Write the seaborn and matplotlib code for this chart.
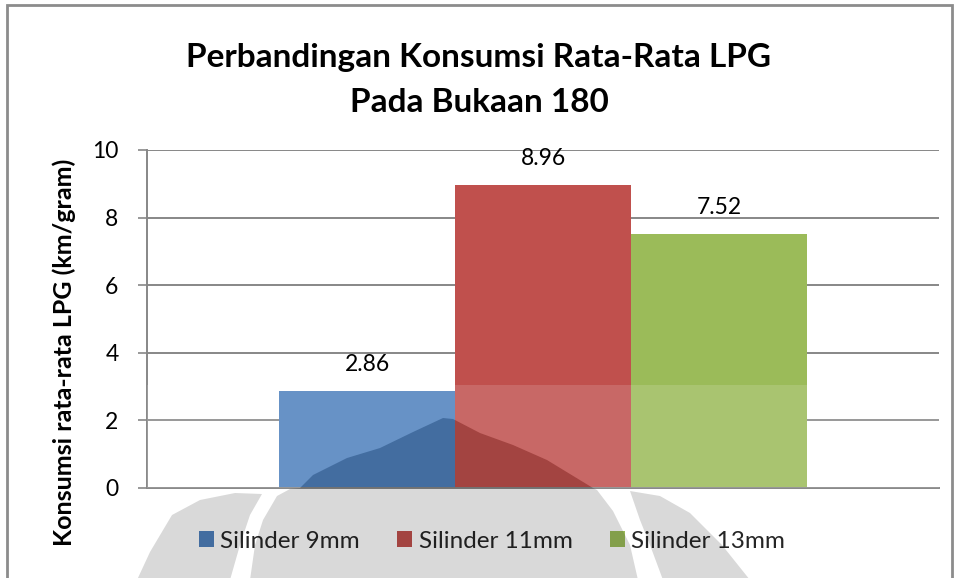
import numpy as np
import pandas as pd
import seaborn as sns
import matplotlib
matplotlib.use("Agg")
import matplotlib.pyplot as plt
from matplotlib.patches import Patch, PathPatch, Polygon, Rectangle
from matplotlib.path import Path

# ---- data -------------------------------------------------------------
judul = ["Perbandingan Konsumsi Rata-Rata LPG", "Pada Bukaan 180"]
label_y = "Konsumsi rata-rata LPG (km/gram)"
kategori = [""]
seri = ["Silinder 9mm", "Silinder 11mm", "Silinder 13mm"]
nilai = [2.86, 8.96, 7.52]
warna = ["#4F81BD", "#C0504D", "#9BBB59"]
y_ticks = [0, 2, 4, 6, 8, 10]

W, H = 958, 578
GRID = "#878787"

sns.set_theme(style="white")
plt.rcParams["font.family"] = ["Lato", "DejaVu Sans"]

fig = plt.figure(figsize=(W / 100, H / 100), dpi=100)
fig.patch.set_facecolor("white")


def fx(x, y):
    """pixel position (origin top-left) -> figure fraction"""
    return (x / W, 1 - y / H)


ax = fig.add_axes([147 / W, 1 - 488 / H, (939 - 147) / W, (488 - 150) / H])

df = pd.DataFrame({"kategori": kategori * len(seri), "seri": seri, "nilai": nilai})
sns.barplot(data=df, x="kategori", y="nilai", hue="seri", hue_order=seri,
            palette=warna, width=2 / 3, errorbar=None, saturation=1,
            linewidth=0, legend=False, ax=ax, zorder=2)

ax.set_xlim(-0.5, 0.5)
ax.set_ylim(0, 10)
ax.set_yticks(y_ticks)
ax.set_yticklabels([str(t) for t in y_ticks])
ax.set_xlabel("")
ax.set_ylabel("")
ax.yaxis.grid(True, color=GRID, lw=1.4)
ax.set_axisbelow(True)
for s in ["top", "right"]:
    ax.spines[s].set_visible(False)
for s in ["left", "bottom"]:
    ax.spines[s].set_color(GRID)
    ax.spines[s].set_linewidth(1.4)
ax.tick_params(axis="y", left=True, length=6.5, width=1.2, color=GRID,
               pad=14, labelsize=16.5, labelcolor="black")
ax.tick_params(axis="x", bottom=False, labelbottom=False)

# value labels above each bar
for cont in ax.containers:
    for p in cont:
        h = p.get_height()
        ax.annotate(f"{h:.2f}", xy=(p.get_x() + p.get_width() / 2, h),
                    xytext=(0, 14.5), textcoords="offset points",
                    ha="center", va="baseline", fontsize=16.5, color="black")

# title
fig.text(*fx(479, 67), judul[0], ha="center", va="baseline",
         fontsize=24, fontweight="bold", color="black")
fig.text(*fx(479, 112), judul[1], ha="center", va="baseline",
         fontsize=24, fontweight="bold", color="black")

# y label
fig.text(*fx(64, 352), label_y, rotation=90, ha="center", va="center",
         fontsize=18, fontweight="bold", color="black")

# legend
handles = [Patch(facecolor=c, edgecolor="none", label=s) for c, s in zip(warna, seri)]
fig.legend(handles=handles, loc="center", bbox_to_anchor=fx(492, 541),
           ncol=3, frameon=False, fontsize=17.5, handlelength=0.62,
           handleheight=0.62, handletextpad=0.25, columnspacing=1.56)

# ---- background watermark -------------------------------------------
def to_fig(pts):
    return [fx(x, y) for x, y in pts]


def compound(outer, holes=()):
    verts, codes = [], []
    for ring, rev in [(outer, False)] + [(h, True) for h in holes]:
        pts = to_fig(ring[::-1] if rev else ring)
        verts += pts + [pts[0]]
        codes += [Path.MOVETO] + [Path.LINETO] * (len(pts) - 1) + [Path.CLOSEPOLY]
    return Path(verts, codes)


hump = [(300, 488), (313, 475), (347, 458), (380, 448), (413, 432), (443, 418),
        (453, 419), (480, 433), (513, 445), (547, 460), (593, 488)]

blade_a = [(137, 580), (150, 552), (172, 515), (200, 500), (235, 493), (262, 494),
           (250, 515), (240, 545), (230, 580)]
blade_mid = ([(250, 580), (255, 545), (263, 520), (277, 496), (290, 489)] + hump +
             [(597, 490), (613, 511), (630, 545), (638, 580)])
hole_2 = [(412, 497), (392, 508), (373, 528), (362, 580), (397, 580), (399, 545),
          (402, 528), (405, 511)]
hole_3 = [(480, 497), (487, 511), (491, 528), (497, 580), (530, 580), (519, 528),
          (500, 508)]
blade_d = [(630, 491), (660, 496), (690, 513), (722, 545), (750, 580), (663, 580),
           (650, 545), (640, 520)]

for path in [compound(blade_a), compound(blade_mid, [hole_2, hole_3]), compound(blade_d)]:
    fig.add_artist(PathPatch(path, facecolor="black", edgecolor="none", alpha=0.15,
                             transform=fig.transFigure, zorder=10))

haze = [(147, 385), (939, 385), (939, 488)] + hump[::-1] + [(147, 488)]
fig.add_artist(Polygon(to_fig(haze), closed=True, facecolor="white", edgecolor="none",
                       alpha=0.14, transform=fig.transFigure, zorder=10))

# outer chart border
fig.add_artist(Rectangle(fx(7, 620), (952 - 7) / W, (620 - 5) / H, fill=False,
                         edgecolor="#8C8C8C", lw=2, transform=fig.transFigure,
                         zorder=11, clip_on=False))

fig.savefig("out.png", dpi=100, facecolor="white")
